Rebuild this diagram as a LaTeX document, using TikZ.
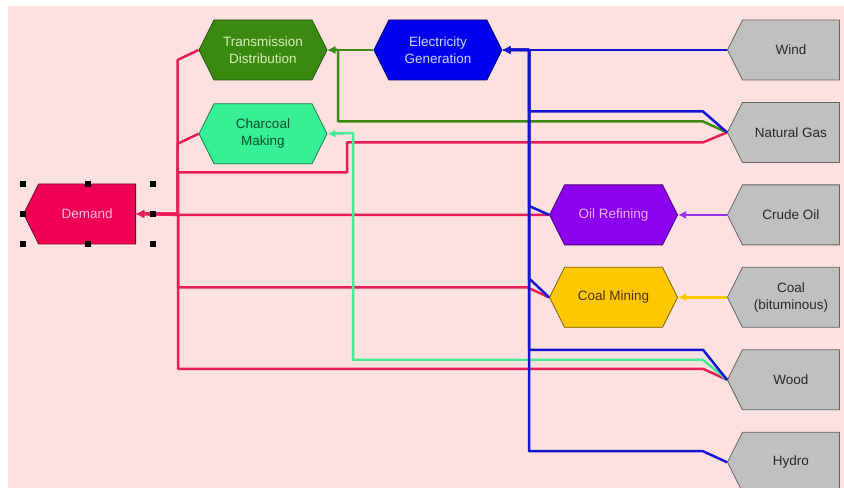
\documentclass[tikz,border=0pt]{standalone}
\usepackage{fontspec}
\setmainfont{Liberation Sans}
\usepackage{tikz}
\usetikzlibrary{arrows.meta, positioning, shapes.symbols}
\usepackage{xcolor}
\definecolor{bgpink}{RGB}{253,224,224}
\definecolor{transfill}{RGB}{58,138,16}
\definecolor{transdraw}{RGB}{36,84,14}
\definecolor{transtext}{RGB}{214,240,190}
\definecolor{elecfill}{RGB}{0,0,238}
\definecolor{elecdraw}{RGB}{0,0,120}
\definecolor{electext}{RGB}{205,215,255}
\definecolor{charfill}{RGB}{55,240,150}
\definecolor{chardraw}{RGB}{30,120,75}
\definecolor{chartext}{RGB}{10,80,40}
\definecolor{demfill}{RGB}{240,0,85}
\definecolor{demdraw}{RGB}{120,0,40}
\definecolor{demtext}{RGB}{255,190,215}
\definecolor{oilfill}{RGB}{140,0,238}
\definecolor{oildraw}{RGB}{75,0,130}
\definecolor{oiltext}{RGB}{232,180,255}
\definecolor{coalfill}{RGB}{255,200,0}
\definecolor{coaldraw}{RGB}{125,95,0}
\definecolor{coaltext}{RGB}{80,50,0}
\definecolor{srcfill}{RGB}{192,192,192}
\definecolor{srcdraw}{RGB}{100,100,100}
\definecolor{srctext}{RGB}{40,40,40}
\definecolor{pinkline}{RGB}{232,30,90}
\definecolor{greenline}{RGB}{60,140,20}
\definecolor{mintline}{RGB}{70,235,150}
\definecolor{blueline}{RGB}{20,20,210}
\definecolor{purpleline}{RGB}{150,50,240}
\definecolor{goldline}{RGB}{255,200,0}

\begin{document}
\begin{tikzpicture}[x=1bp, y=-1bp,
hexnode/.style={signal, signal to=west and east, signal pointer angle=126.87, thick, minimum width=128bp, minimum height=60bp, inner sep=1bp, align=center, font=\fontsize{13.5bp}{17bp}\selectfont},
srcnode/.style={signal, signal to=west, signal pointer angle=126.87, draw=srcdraw, fill=srcfill, text=srctext, thick, minimum width=112bp, minimum height=60bp, inner sep=1bp, align=center, font=\fontsize{13.5bp}{17bp}\selectfont},
flowline/.style={line width=2.5bp, line join=round, -{Latex[length=8bp,width=8bp]}},
node distance=21.65bp,
]
%Background
\useasboundingbox (0,0) rectangle (844,488);
\fill[white] (0,0) rectangle (844,488);
\fill[bgpink] (8,6) rectangle (844,488);

%Nodes
\node[hexnode, draw=transdraw, fill=transfill, text=transtext] (trans) at (263,50) {Transmission\\Distribution};
\node[hexnode, draw=elecdraw, fill=elecfill, text=electext] (elec) [right=46bp of trans] {Electricity\\Generation};
\node[hexnode, draw=chardraw, fill=charfill, text=chartext] (charcoal) [below=23bp of trans] {Charcoal\\Making};
\node[srcnode, draw=demdraw, fill=demfill, text=demtext, anchor=east] (demand) at (136,214) {Demand};

\node[srcnode, anchor=west] (wind) at (727,50) {Wind};
\node[srcnode] (gas) [below=of wind] {Natural Gas};
\node[srcnode] (crude) [below=of gas] {Crude Oil};
\node[srcnode] (coal) [below=of crude] {Coal\\(bituminous)};
\node[srcnode] (wood) [below=of coal] {Wood};
\node[srcnode] (hydro) [below=of wood] {Hydro};

\node[hexnode, draw=oildraw, fill=oilfill, text=oiltext] (oilref) [left=49bp of crude] {Oil Refining};
\node[hexnode, draw=coaldraw, fill=coalfill, text=coaltext] (coalmin) [left=49bp of coal] {Coal Mining};

%Bus points
\coordinate (dbus) at (178,214);
\coordinate (tbus) at (338,50);
\coordinate (cbus) at (353,133);
\coordinate (ebus) at (529,50);

%Demand
\draw[flowline, pinkline] (trans.west) -- ++(-21,10) |- (dbus) -- (demand.east);
\draw[flowline, pinkline] (charcoal.west) -- ++(-21,10) |- (dbus) -- (demand.east);
\draw[flowline, pinkline] (gas.west) -- ++(-24,10) -| ++(-356,30) -| (dbus) -- (demand.east);
\draw[flowline, pinkline] (oilref.west) -- (oilref.west -| dbus) -- (demand.east);
\draw[flowline, pinkline] (coalmin.west) -- ++(-22,-10) -| (dbus) -- (demand.east);
\draw[flowline, pinkline] (wood.west) -- ++(-24,-11) -| (dbus) -- (demand.east);

%Transmission and charcoal
\draw[flowline, greenline] (elec.west) -- (trans.east);
\draw[flowline, greenline] (gas.west) -- ++(-24,-11) -| (tbus) -- (trans.east);
\draw[flowline, mintline] (wood.west) -- ++(-24,-20) -| (cbus) -- (charcoal.east);

%Electricity
\draw[flowline, blueline] (wind.west) -- (elec.east);
\draw[flowline, blueline] (gas.west) -- ++(-24,-21) -| (ebus) -- (elec.east);
\draw[flowline, blueline] (oilref.west) -- ([yshift=9bp]oilref.west -| ebus) -- (ebus) -- (elec.east);
\draw[flowline, blueline] (coalmin.west) -- ([yshift=19bp]coalmin.west -| ebus) -- (ebus) -- (elec.east);
\draw[flowline, blueline] (wood.west) -- ++(-24,-30) -| (ebus) -- (elec.east);
\draw[flowline, blueline] (hydro.west) -- ++(-24,-11) -| (ebus) -- (elec.east);

%Refining and mining
\draw[flowline, purpleline] (crude.west) -- (oilref.east);
\draw[flowline, goldline] (coal.west) -- (coalmin.east);

%Selection handles
\foreach \hx/\hy in {23/184, 88/184, 153/184, 23/214, 153/214, 23/244, 88/244, 153/244}
  \fill (\hx-3,\hy-3) rectangle ++(6,6);
\end{tikzpicture}
\end{document}
